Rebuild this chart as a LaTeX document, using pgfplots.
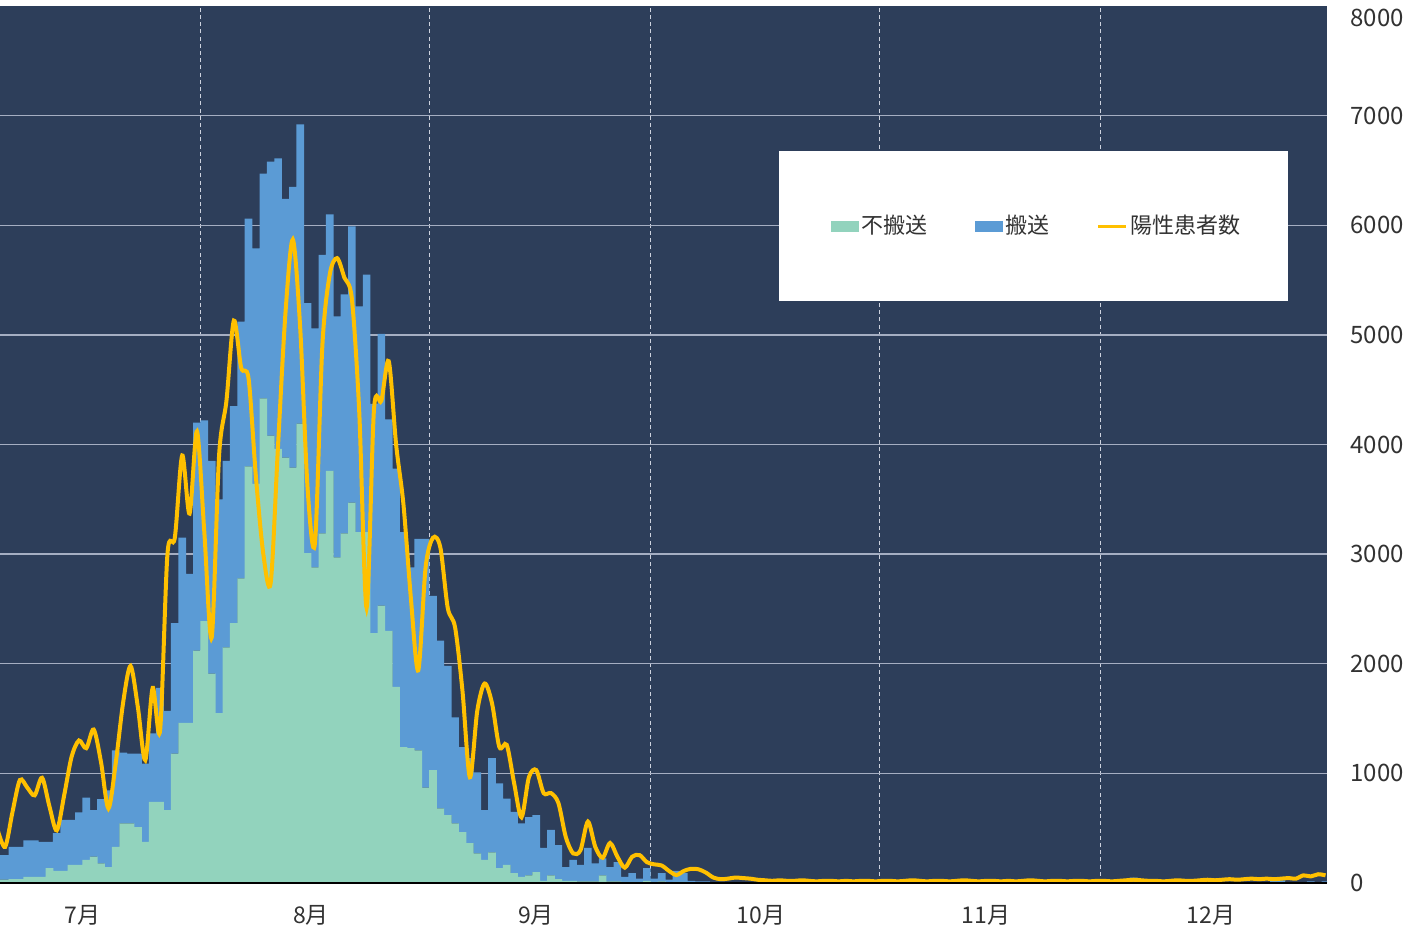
\documentclass[border=0pt]{standalone}
\usepackage{fontspec}
\setmainfont{Noto Sans CJK JP}
\usepackage{pgfplots}
\pgfplotsset{compat=1.18}
\usepackage{pgfplotstable}

\definecolor{navy}{RGB}{45,62,90}
\definecolor{fuhan}{RGB}{146,211,189}
\definecolor{hansou}{RGB}{91,155,213}
\definecolor{posi}{RGB}{255,192,0}
\definecolor{gridc}{RGB}{165,174,194}
\definecolor{dashc}{RGB}{205,210,222}
\definecolor{labc}{RGB}{50,50,50}

% day index: 0 = 8/1, bars centred on the day
\pgfplotstableread[row sep=\\]{
day fu hansou \\
-28 30 225 \\ -27 30 225 \\ -26 35 295 \\ -25 35 295 \\ -24 55 335 \\
-23 55 335 \\ -22 55 320 \\ -21 135 240 \\ -20 110 345 \\ -19 110 465 \\
-18 165 410 \\ -17 165 480 \\ -16 210 570 \\ -15 240 425 \\ -14 180 585 \\
-13 145 700 \\ -12 330 880 \\ -11 545 645 \\ -10 545 635 \\ -9 510 670 \\
-8 375 715 \\ -7 740 625 \\ -6 740 1040 \\ -5 665 905 \\ -4 1180 1190 \\
-3 1460 1690 \\ -2 1460 1360 \\ -1 2120 2080 \\ 0 2390 1830 \\ 1 1910 1940 \\
2 1550 1950 \\ 3 2150 1700 \\ 4 2370 1980 \\ 5 2780 2340 \\ 6 3800 2260 \\
7 3640 2150 \\ 8 4420 2050 \\ 9 4080 2500 \\ 10 3960 2650 \\ 11 3880 2360 \\
12 3790 2560 \\ 13 4190 2730 \\ 14 3010 2280 \\ 15 2880 2180 \\ 16 3190 2540 \\
17 3760 2340 \\ 18 2970 2200 \\ 19 3190 2180 \\ 20 3470 2520 \\ 21 3200 2060 \\
22 3200 2350 \\ 23 2280 2090 \\ 24 2530 2480 \\ 25 2300 1930 \\ 26 1790 1990 \\
27 1240 1960 \\ 28 1230 1650 \\ 29 1210 1930 \\ 30 870 2270 \\ 31 1030 1590 \\
32 680 1530 \\ 33 620 1360 \\ 34 545 965 \\ 35 465 775 \\ 36 365 775 \\
37 270 740 \\ 38 210 455 \\ 39 280 860 \\ 40 135 775 \\ 41 165 605 \\
42 90 560 \\ 43 55 490 \\ 44 70 530 \\ 45 100 520 \\ 46 20 300 \\
47 70 415 \\ 48 35 310 \\ 49 20 125 \\ 50 20 190 \\ 51 15 150 \\
52 15 305 \\ 53 15 165 \\ 54 70 155 \\ 55 15 130 \\ 56 15 175 \\
57 10 45 \\ 58 10 80 \\ 59 10 30 \\ 60 20 115 \\ 61 10 30 \\
62 15 75 \\ 63 5 25 \\ 64 10 100 \\ 65 10 80 \\ 66 5 15 \\
67 5 10 \\ 68 5 10 \\ 69 5 5 \\ 70 0 10 \\ 71 0 5 \\
72 0 5 \\ 73 0 5 \\ 74 0 0 \\ 75 0 5 \\ 76 0 0 \\
80 0 5 \\ 85 0 0 \\ 90 0 5 \\ 95 0 0 \\ 100 0 5 \\
105 0 0 \\ 110 0 5 \\ 115 0 0 \\ 120 0 5 \\ 125 0 5 \\
126 0 50 \\ 127 0 5 \\ 130 0 5 \\ 135 0 5 \\ 140 0 5 \\
145 5 25 \\ 146 5 20 \\ 150 5 10 \\ 152 5 10 \\
}\bars

\pgfplotstableread[row sep=\\]{
day pos \\
-28 480 \\ -27 330 \\ -26 650 \\ -25 940 \\ -24 870 \\ -23 800 \\ -22 960 \\
-21 700 \\ -20 480 \\ -19 800 \\ -18 1150 \\ -17 1300 \\ -16 1230 \\ -15 1400 \\
-14 1100 \\ -13 680 \\ -12 1100 \\ -11 1650 \\ -10 1980 \\ -9 1600 \\ -8 1120 \\
-7 1780 \\ -6 1390 \\ -5 3000 \\ -4 3150 \\ -3 3900 \\ -2 3370 \\ -1 4120 \\
0 3200 \\ 1 2240 \\ 2 3900 \\ 3 4400 \\ 4 5130 \\ 5 4700 \\ 6 4600 \\
7 3700 \\ 8 3000 \\ 9 2740 \\ 10 4000 \\ 11 5200 \\ 12 5870 \\ 13 5060 \\
14 3600 \\ 15 3100 \\ 16 4900 \\ 17 5550 \\ 18 5700 \\ 19 5520 \\ 20 5330 \\
21 4300 \\ 22 2510 \\ 23 4320 \\ 24 4400 \\ 25 4760 \\ 26 4000 \\ 27 3450 \\
28 2600 \\ 29 1940 \\ 30 2880 \\ 31 3150 \\ 32 3060 \\ 33 2510 \\ 34 2330 \\
35 1750 \\ 36 965 \\ 37 1570 \\ 38 1820 \\ 39 1640 \\ 40 1240 \\ 41 1260 \\
42 910 \\ 43 600 \\ 44 965 \\ 45 1030 \\ 46 820 \\ 47 820 \\ 48 730 \\
49 420 \\ 50 270 \\ 51 300 \\ 52 560 \\ 53 330 \\ 54 230 \\ 55 365 \\
56 240 \\ 57 140 \\ 58 240 \\ 59 255 \\ 60 190 \\ 61 170 \\ 62 160 \\
63 110 \\ 64 73 \\ 65 110 \\ 66 130 \\ 67 125 \\ 68 95 \\ 69 50 \\
70 35 \\ 71 40 \\ 72 50 \\ 73 45 \\ 74 40 \\ 75 30 \\ 76 25 \\
77 20 \\ 78 25 \\ 79 20 \\ 80 20 \\ 81 25 \\ 82 20 \\ 83 15 \\
84 20 \\ 85 20 \\ 86 15 \\ 87 20 \\ 88 15 \\ 89 20 \\ 90 20 \\
91 15 \\ 92 20 \\ 93 20 \\ 94 15 \\ 95 20 \\ 96 25 \\ 97 20 \\
98 15 \\ 99 20 \\ 100 20 \\ 101 15 \\ 102 20 \\ 103 25 \\ 104 20 \\
105 15 \\ 106 20 \\ 107 20 \\ 108 15 \\ 109 20 \\ 110 15 \\ 111 20 \\
112 25 \\ 113 20 \\ 114 15 \\ 115 20 \\ 116 20 \\ 117 15 \\ 118 20 \\
119 20 \\ 120 15 \\ 121 20 \\ 122 20 \\ 123 15 \\ 124 20 \\ 125 25 \\
126 30 \\ 127 25 \\ 128 20 \\ 129 20 \\ 130 15 \\ 131 20 \\ 132 25 \\
133 20 \\ 134 20 \\ 135 25 \\ 136 30 \\ 137 25 \\ 138 30 \\ 139 35 \\
140 30 \\ 141 35 \\ 142 40 \\ 143 35 \\ 144 40 \\ 145 35 \\ 146 40 \\
147 45 \\ 148 40 \\ 149 70 \\ 150 60 \\ 151 80 \\ 152 70 \\
}\positive

\pgfplotsset{
  base/.style={
    scale only axis, width=663.5pt, height=438.5pt,
    xmin=-27.7, xmax=152.2, ymin=0, ymax=8000,
    axis line style={draw=none},
    tick style={draw=none},
  },
}

\begin{document}
\begin{tikzpicture}
\begin{axis}[base,
  axis background/.style={fill=navy},
  ybar stacked, bar width=1.04,
  ytick={0,1000,...,7000},
  extra y ticks={8000},
  extra y tick style={grid=none, yticklabel style={yshift=-6pt}},
  yticklabel pos=right,
  scaled y ticks=false,
  /pgf/number format/1000 sep={},
  /pgf/number format/assume math mode=true,
  yticklabel style={anchor=west, inner xsep=0pt, xshift=11.5pt,
    font=\fontsize{12}{14}\selectfont, text=labc},
  ymajorgrids, grid style={gridc, line width=0.7pt},
  xtick={-16,15,45.5,76,106.5,137},
  xticklabels={7月,8月,9月,10月,11月,12月},
  xticklabel style={font=\fontsize{11.5}{13}\selectfont, text=labc,
    yshift=-7.5pt, xshift=-2pt},
  minor xtick={-0.5,30.5,60.5,91.5,121.5},
  xminorgrids,
  minor x grid style={dashc, line width=0.7pt, dash pattern=on 2pt off 1.6pt},
]
\addplot[fill=fuhan, draw=none] table[x=day, y=fu] {\bars};
\addplot[fill=hansou, draw=none] table[x=day, y=hansou] {\bars};
\end{axis}

\begin{axis}[base,
  xtick=\empty, ytick=\empty,
  legend columns=3,
  legend style={at={(0.587,0.8347)}, anchor=north west,
    draw=none, fill=white, inner xsep=22pt, inner ysep=30pt,
    font=\fontsize{11}{12}\selectfont, text=labc,
    nodes={inner xsep=1.5pt},
    /tikz/every even column/.append style={column sep=22pt}},
]
\addlegendimage{legend image code/.code={\path[draw=none, fill=none] (0pt,-2.6pt) rectangle (4pt,2.6pt);
  \fill[fuhan] (4pt,-2.6pt) rectangle (17.5pt,2.6pt);}}
\addlegendentry{不搬送}
\addlegendimage{legend image code/.code={\fill[hansou] (0pt,-2.6pt) rectangle (13.5pt,2.6pt);}}
\addlegendentry{搬送}
\addplot[posi, line width=2pt, smooth, tension=0.5,
  legend image code/.code={\draw[posi, line width=1.6pt] (0pt,0pt) -- (14pt,0pt);}]
  table[x=day, y=pos] {\positive};
\addlegendentry{陽性患者数}
\draw[black, line width=1.3pt] (rel axis cs:0,0) -- (rel axis cs:1,0);
\end{axis}
\pgfresetboundingbox
\path[use as bounding box] (0pt,-25.5pt) rectangle (708pt,441.5pt);
\end{tikzpicture}
\end{document}
